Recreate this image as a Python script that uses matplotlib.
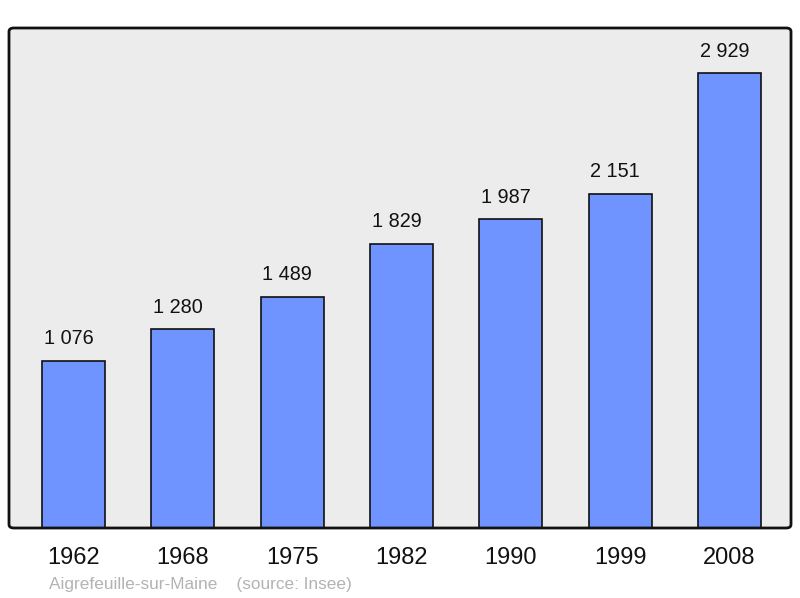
import matplotlib
matplotlib.use("Agg")
import matplotlib.pyplot as plt
from matplotlib.patches import FancyBboxPatch

years = ["1962", "1968", "1975", "1982", "1990", "1999", "2008"]
population = [1076, 1280, 1489, 1829, 1987, 2151, 2929]
value_labels = ["1 076", "1 280", "1 489", "1 829", "1 987", "2 151", "2 929"]
title_text = "Aigrefeuille-sur-Maine    (source: Insee)"

plt.rcParams['font.family'] = ['Liberation Sans', 'DejaVu Sans']

W, H = 800, 598
fig = plt.figure(figsize=(W/100, H/100), dpi=100)
left, right, top, bottom = 9, 791, 28, 528
ax = fig.add_axes([left/W, 1-bottom/H, (right-left)/W, (bottom-top)/H])
ax.set_facecolor('none')
for s in ax.spines.values():
    s.set_visible(False)

bbox = (left/W, 1-bottom/H, (right-left)/W, (bottom-top)/H)
fill = FancyBboxPatch(bbox[:2], bbox[2], bbox[3],
                      boxstyle="round,pad=0,rounding_size=0.006",
                      transform=fig.transFigure, facecolor='#ececec',
                      edgecolor='none', zorder=-5)
edge = FancyBboxPatch(bbox[:2], bbox[2], bbox[3],
                      boxstyle="round,pad=0,rounding_size=0.006",
                      transform=fig.transFigure, facecolor='none',
                      edgecolor='#111111', linewidth=2, zorder=5)
fig.patches.extend([fill, edge])

x = list(range(len(years)))
ax.bar(x, population, width=0.577, color='#7094ff', edgecolor='#111111', linewidth=1.2, zorder=2)
ax.set_xlim(-0.59, 6.5625)
ax.set_ylim(0, 3219)
for xi, v, lab in zip(x, population, value_labels):
    ax.annotate(lab, (xi, v), xytext=(-5, 22), textcoords='offset pixels',
                ha='center', va='center', fontsize=14.3, color='#111111')
ax.set_xticks(x)
ax.set_xticklabels(years, fontsize=17, color='#111111')
ax.tick_params(axis='x', length=0, pad=14)
ax.set_yticks([])

fig.text(49/W, 1-584/H, title_text, fontsize=12.4, color='#b3b3b3', ha='left', va='center')

fig.savefig('out.png', dpi=100)
